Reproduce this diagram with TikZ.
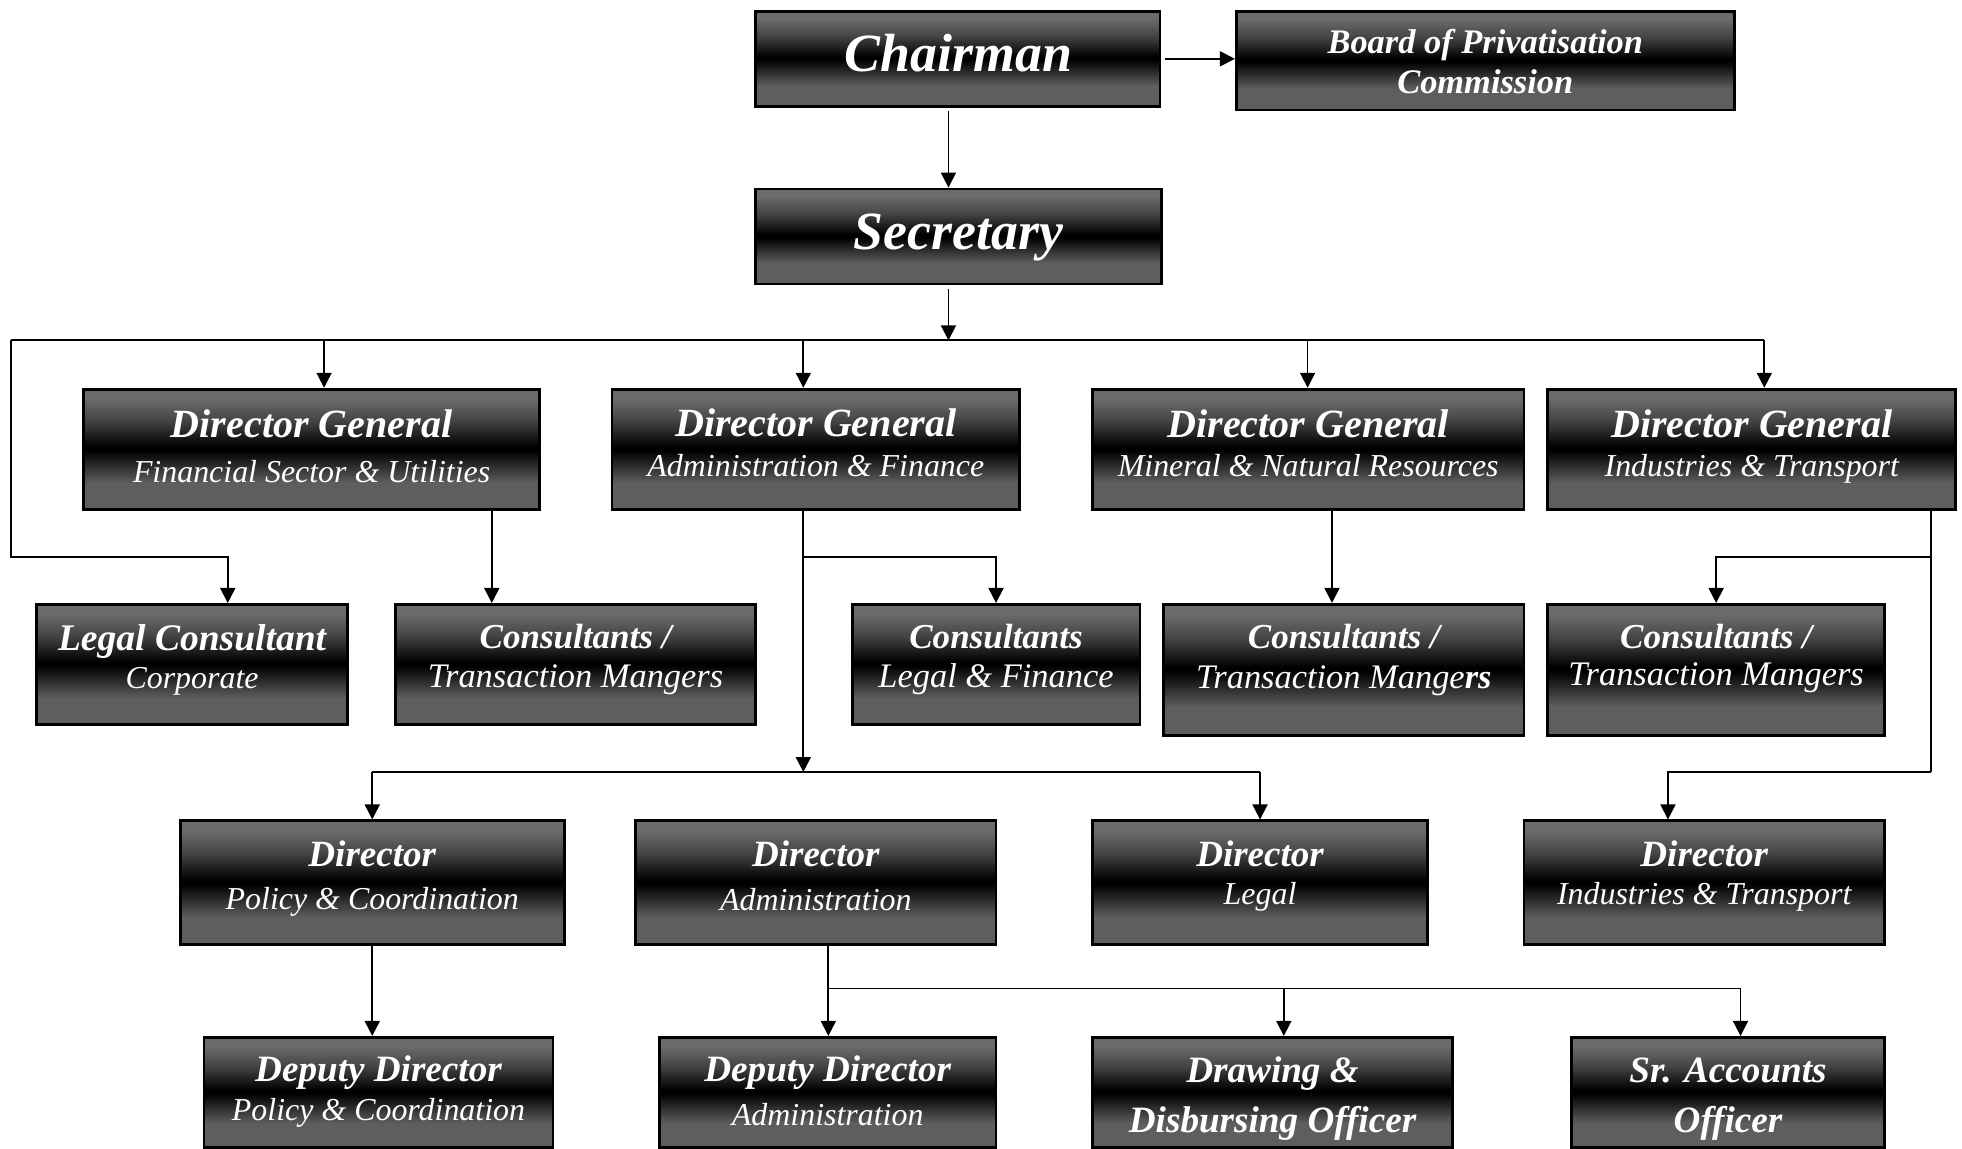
\documentclass[tikz,border=0pt]{standalone}
\usepackage{fontspec}
\setmainfont{Liberation Serif}
\usetikzlibrary{arrows.meta}
\definecolor{mtop}{HTML}{6B6B6B}
\definecolor{mmid}{HTML}{444444}
\definecolor{mbot}{HTML}{5E5E5E}
\pgfdeclareverticalshading{metal}{100bp}{color(0bp)=(mbot); color(25bp)=(mbot); color(36bp)=(mbot); color(49.5bp)=(black); color(51bp)=(black); color(62bp)=(mmid); color(71bp)=(mtop); color(75bp)=(mtop); color(100bp)=(mtop)}
\newcommand\myfs[1]{\fontsize{#1}{#1}\selectfont}
\newcommand\obox[5]{\node[orgbox, minimum width={#4-#2}, minimum height={#5-#3}] (#1) at ({(#2+#4)/2},{(#3+#5)/2}) {};}
\tikzset{
  orgbox/.style={rectangle, draw=black, line width=2.2pt, shade, shading=metal, inner sep=0pt},
  ttl/.style={text=white, anchor=base, inner sep=0pt, font={\myfs{#1}\bfseries\itshape}},
  sub/.style={text=white, anchor=base, inner sep=0pt, font={\myfs{#1}\itshape}},
  conn/.style={draw=black, line width=1.4pt},
  arr/.style={conn, -{Triangle[length=12pt,width=12pt]}}
}
\begin{document}
\begin{tikzpicture}[x=1pt,y=-1pt]
\useasboundingbox (0,0) rectangle (1568,918);
\fill[white] (0,0) rectangle (1568,918);
% boxes
\obox{chair}{604}{9}{927}{85}
\obox{board}{988}{9}{1386}{88}
\obox{sec}{604}{151}{928}{227}
\obox{dg1}{67}{311}{431}{407}
\obox{dg2}{489}{311}{815}{407}
\obox{dg3}{873}{311}{1218}{407}
\obox{dg4}{1237}{311}{1563}{407}
\obox{lg}{29}{483}{278}{579}
\obox{tm1}{316}{483}{604}{579}
\obox{clf}{681}{483}{911}{579}
\obox{tm2}{930}{483}{1218}{588}
\obox{tm3}{1237}{483}{1506}{587.5}
\obox{dpol}{144}{656}{451}{755}
\obox{dadm}{508}{656}{796}{755}
\obox{dleg}{873}{656}{1141}{755}
\obox{dit}{1218}{656}{1506}{755}
\obox{deppol}{163}{829}{442}{917}
\obox{depadm}{527}{829}{796}{917}
\obox{ddo}{873}{829}{1161}{917}
\obox{sao}{1256}{829}{1506}{917}
% texts
\node[ttl=43] (chair-t) at (766,57) {Chairman};
\node[ttl=27.5] (board-t) at (1187,43) {Board of Privatisation};
\node[ttl=27.5] (board-s) at (1187,75) {Commission};
\node[ttl=43] (sec-t) at (766,199) {Secretary};
\node[ttl=32] (dg1-t) at (249,349.5) {Director General};
\node[sub=25.5] (dg1-s) at (249,386) {Financial Sector \& Utilities};
\node[ttl=32] (dg2-t) at (652,348.5) {Director General};
\node[sub=25.5] (dg2-s) at (652,380.5) {Administration \& Finance};
\node[ttl=32] (dg3-t) at (1045.5,349.5) {Director General};
\node[sub=25.5] (dg3-s) at (1045.5,381) {Mineral \& Natural Resources};
\node[ttl=32] (dg4-t) at (1400,349.5) {Director General};
\node[sub=25.5] (dg4-s) at (1400,381) {Industries \& Transport};
\node[ttl=30] (lg-t) at (153.5,520) {Legal Consultant};
\node[sub=25.5] (lg-s) at (153.5,550.5) {Corporate};
\node[ttl=28] (tm1-t) at (460,518.5) {Consultants /};
\node[sub=27.5] (tm1-s) at (460,549.5) {Transaction Mangers};
\node[ttl=28] (clf-t) at (796,518.5) {Consultants};
\node[sub=27.5] (clf-s) at (796,549.5) {Legal \& Finance};
\node[ttl=28] (tm2-t) at (1074,518.5) {Consultants /};
\node[sub=27.5] (tm2-s) at (1074,550.5) {Transaction Mange{\bfseries rs}};
\node[ttl=28] (tm3-t) at (1371.5,518.5) {Consultants /};
\node[sub=27.5] (tm3-s) at (1371.5,548) {Transaction Mangers};
\node[ttl=29.6] (dpol-t) at (297.5,692.5) {Director};
\node[sub=25.5] (dpol-s) at (297.5,727) {Policy \& Coordination};
\node[ttl=29.6] (dadm-t) at (652,692.5) {Director};
\node[sub=25.5] (dadm-s) at (652,727.5) {Administration};
\node[ttl=29.6] (dleg-t) at (1007,692.5) {Director};
\node[sub=25.5] (dleg-s) at (1007,723) {Legal};
\node[ttl=29.6] (dit-t) at (1362,692.5) {Director};
\node[sub=25.5] (dit-s) at (1362,723) {Industries \& Transport};
\node[ttl=29.7] (deppol-t) at (302.5,864) {Deputy Director};
\node[sub=25.5] (deppol-s) at (302.5,895.5) {Policy \& Coordination};
\node[ttl=29.7] (depadm-t) at (661.5,864) {Deputy Director};
\node[sub=25.5] (depadm-s) at (661.5,899.5) {Administration};
\node[ttl=29.7] (ddo-t) at (1017,865) {Drawing \&};
\node[ttl=29.7] (ddo-s) at (1017,905) {Disbursing Officer};
\node[ttl=29.7] (sao-t) at (1381,865) {Sr. Accounts};
\node[ttl=29.7] (sao-s) at (1381,905) {Officer};
% junction coordinates
\coordinate (c1) at (758,89);
\coordinate (s1) at (758,231);
\coordinate (b0) at (758,272);
\coordinate (bL) at (9,272);
\coordinate (bR) at (1410,272);
\coordinate (lgj) at (182,445);
\coordinate (d1) at (259,272);
\coordinate (d2) at (642,272);
\coordinate (d3) at (1045,272);
\coordinate (t1) at (393,445);
\coordinate (t2) at (642,445);
\coordinate (m2) at (642,617);
\coordinate (t3) at (1064.5,445);
\coordinate (r1) at (1543,445);
\coordinate (r2) at (1543,617);
\coordinate (r3) at (1333,617);
\coordinate (q1) at (662,790);
\coordinate (q2) at (1026,790);
\coordinate (q3) at (1391,790);
% connectors
\draw[arr] ([xshift=3pt]chair.east) -- (chair.east -| board.west);
\draw[arr] (c1) -- (c1 |- sec.north);
\draw[arr] (s1) -- (b0);
\draw[conn] (bL) -- (bR);
\draw[arr] (bL) |- (lgj) -- (lgj |- lg.north);
\draw[arr] (d1) -- (d1 |- dg1.north);
\draw[arr] (d2) -- (d2 |- dg2.north);
\draw[arr] (d3) -- (d3 |- dg3.north);
\draw[arr] (bR) -- (bR |- dg4.north);
\draw[arr] (t1 |- dg1.south) -- (t1 |- tm1.north);
\draw[arr] (t2 |- dg2.south) -- (m2);
\draw[arr] (t2) -| (clf.north);
\draw[conn] (dpol.north |- m2) -- (dleg.north |- m2);
\draw[arr] (dpol.north |- m2) -- (dpol.north);
\draw[arr] (dleg.north |- m2) -- (dleg.north);
\draw[arr] (t3 |- dg3.south) -- (t3 |- tm2.north);
\draw[conn] (r1 |- dg4.south) -- (r2);
\draw[arr] (r1) -| (tm3.north);
\draw[arr] (r2) -- (r3) -- (r3 |- dit.north);
\draw[arr] (dpol.south) -- (dpol.south |- deppol.north);
\draw[arr] (q1 |- dadm.south) -- (q1 |- depadm.north);
\draw[conn] (q1) -- (q3);
\draw[arr] (q2) -- (q2 |- ddo.north);
\draw[arr] (q3) -- (q3 |- sao.north);
\end{tikzpicture}
\end{document}
